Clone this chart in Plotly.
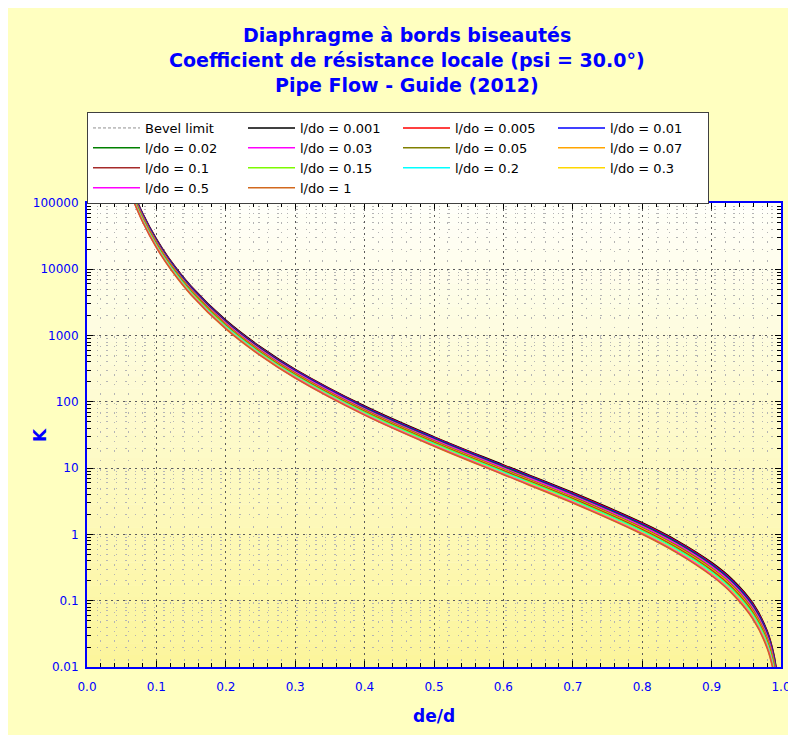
import plotly.graph_objects as go

# ---------------- data ----------------
de_d = [0.065, 0.08, 0.10, 0.12, 0.15, 0.20, 0.25, 0.30, 0.40, 0.50,
        0.60, 0.70, 0.80, 0.85, 0.90, 0.93, 0.96, 0.98, 0.99, 0.995]

k_0001 = [162000, 70400, 28700, 13700, 5550, 1707, 673.5, 309.9, 86.49, 29.69,
          11.22, 4.290, 1.501, 0.809, 0.378, 0.2085, 0.0899, 0.0352, 0.0149, 0.00663]
k_0005 = [159000, 69000, 28100, 13500, 5440, 1673, 659.9, 303.6, 84.69, 29.05,
          10.96, 4.188, 1.463, 0.787, 0.367, 0.2020, 0.0869, 0.0339, 0.0143, 0.00635]
k_001 = [156000, 67800, 27600, 13200, 5340, 1643, 648.1, 298.1, 83.11, 28.50,
         10.74, 4.099, 1.429, 0.768, 0.357, 0.1963, 0.0842, 0.0328, 0.0138, 0.00611]
k_002 = [151500, 65800, 26800, 12800, 5180, 1594, 628.5, 289.0, 80.52, 27.58,
         10.38, 3.953, 1.373, 0.736, 0.3415, 0.1870, 0.0798, 0.0310, 0.0130, 0.00572]
k_003 = [148000, 64200, 26100, 12500, 5060, 1555, 613.1, 281.9, 78.48, 26.86,
         10.10, 3.838, 1.330, 0.711, 0.329, 0.1797, 0.0764, 0.0295, 0.0123, 0.00542]
k_005 = [142000, 61900, 25200, 12100, 4870, 1497, 590.3, 271.3, 75.46, 25.79,
         9.679, 3.668, 1.266, 0.675, 0.311, 0.1691, 0.0715, 0.0274, 0.0114, 0.00499]
k_007 = [139000, 60300, 24600, 11800, 4750, 1460, 575.3, 264.3, 73.49, 25.09,
         9.404, 3.557, 1.224, 0.651, 0.299, 0.1622, 0.0683, 0.0261, 0.0108, 0.00470]
k_01 = [135000, 58800, 23900, 11500, 4630, 1423, 560.5, 257.5, 71.53, 24.40,
        9.134, 3.448, 1.183, 0.628, 0.287, 0.1554, 0.0651, 0.0247, 0.0102, 0.00443]
k_015 = [132000, 57300, 23300, 11200, 4510, 1386, 546.0, 250.7, 69.61, 23.72,
         8.867, 3.341, 1.142, 0.605, 0.276, 0.1488, 0.0621, 0.0235, 0.00961, 0.00417]
k_02 = [128500, 55800, 22700, 10900, 4390, 1350, 531.6, 244.1, 67.71, 23.05,
        8.604, 3.235, 1.103, 0.583, 0.265, 0.1423, 0.0591, 0.0222, 0.00905, 0.00391]
k_03 = [125000, 54300, 22100, 10600, 4280, 1314, 517.4, 237.5, 65.84, 22.39,
        8.346, 3.131, 1.064, 0.560, 0.254, 0.1359, 0.0562, 0.0210, 0.00851, 0.00366]
k_05 = [122000, 52900, 21500, 10300, 4160, 1279, 503.4, 231.0, 63.99, 21.74,
        8.091, 3.029, 1.025, 0.539, 0.243, 0.1297, 0.0533, 0.0198, 0.00799, 0.00342]
k_1 = [120000, 52200, 21200, 10200, 4110, 1261, 496.5, 227.8, 63.08, 21.42,
       7.965, 2.978, 1.006, 0.528, 0.238, 0.1267, 0.0519, 0.0192, 0.00774, 0.00331]

# the bevel limit has no visible mark inside the plotted range
bevel_limit_x = [None]
bevel_limit_y = [None]

series_names = ["l/do = 0.001", "l/do = 0.005", "l/do = 0.01", "l/do = 0.02",
                "l/do = 0.03", "l/do = 0.05", "l/do = 0.07", "l/do = 0.1",
                "l/do = 0.15", "l/do = 0.2", "l/do = 0.3", "l/do = 0.5", "l/do = 1"]
series_values = [k_0001, k_0005, k_001, k_002, k_003, k_005, k_007, k_01,
                 k_015, k_02, k_03, k_05, k_1]

y_tickvals = [0.01, 0.1, 1, 10, 100, 1000, 10000, 100000]
y_ticktext = ["0.01", "0.1", "1", "10", "100", "1000", "10000", "100000"]

title_lines = ["Diaphragme à bords biseautés",
               "Coefficient de résistance locale (psi = 30.0°)",
               "Pipe Flow - Guide (2012)"]

# ---------------- styling ----------------
series_colors = ["#000000", "#ff0000", "#0000ff", "#008000", "#ff00ff", "#808000",
                 "#ffa500", "#a52a2a", "#7cfc00", "#00ffff", "#ffd700", "#ff00ff",
                 "#d2691e"]
FONT = "DejaVu Sans, Verdana, sans-serif"
BLUE = "#0000ff"

W, H = 796, 735
L, R, T, B = 79, 23, 195, 76
plot_h = H - T - B
plot_w = W - L - R


def py(px):
    """figure pixel y (from top) -> paper y"""
    return (H - B - px) / plot_h


def pxx(px):
    """figure pixel x -> paper x"""
    return (px - L) / plot_w


fig = go.Figure()

fig.add_trace(go.Scatter(x=bevel_limit_x, y=bevel_limit_y, mode="lines",
                         name="Bevel limit",
                         line=dict(color="#909090", width=1, dash="3px,2px")))

for name, vals, col in zip(series_names, series_values, series_colors):
    fig.add_trace(go.Scatter(x=de_d, y=vals, mode="lines", name=name,
                             line=dict(color=col, width=1.5, shape="spline")))

# gradient background of plot area
shapes = []
n = 40
top_c = (255, 255, 250)
bot_c = (252, 245, 155)
for i in range(n):
    t = (i + 0.5) / n
    c = tuple(round(top_c[k] + (bot_c[k] - top_c[k]) * t) for k in range(3))
    shapes.append(dict(type="rect", xref="paper", yref="paper",
                       x0=0, x1=1, y0=1 - (i + 1) / n, y1=1 - i / n + 0.001,
                       fillcolor="rgb(%d,%d,%d)" % c, line=dict(width=0),
                       layer="below"))

annotations = []
for i, line in enumerate(title_lines):
    annotations.append(dict(text="<b>%s</b>" % line, x=pxx(399), y=py(27 + 25 * i),
                            xref="paper", yref="paper", showarrow=False,
                            xanchor="center", yanchor="middle",
                            font=dict(family=FONT, size=19, color=BLUE)))
# y axis title
annotations.append(dict(text="<b>K</b>", x=pxx(32), y=py(427), xref="paper", yref="paper",
                        showarrow=False, textangle=-90, xanchor="center", yanchor="middle",
                        font=dict(family=FONT, size=17, color=BLUE)))
# x axis title
annotations.append(dict(text="<b>de/d</b>", x=0.5, y=py(708), xref="paper", yref="paper",
                        showarrow=False, xanchor="center", yanchor="middle",
                        font=dict(family=FONT, size=17, color=BLUE)))

axis_common = dict(
    showline=True, linecolor=BLUE, linewidth=2, mirror="ticks",
    ticks="inside", ticklen=6, tickwidth=1.2, tickcolor="black",
    showgrid=True, gridcolor="#5c5c5c", griddash="2px,4px", gridwidth=1,
    zeroline=False,
    tickfont=dict(family=FONT, size=12, color=BLUE),
)

fig.update_layout(
    width=W, height=H,
    margin=dict(l=L, r=R, t=T, b=B, autoexpand=False),
    paper_bgcolor="#ffffc0",
    plot_bgcolor="#fffff0",
    shapes=shapes,
    annotations=annotations,
    showlegend=True,
    legend=dict(orientation="h", x=0, y=py(104), xanchor="left", yanchor="top",
                bgcolor="white", bordercolor="#404040", borderwidth=1,
                font=dict(family=FONT, size=13, color="black"),
                entrywidth=93, entrywidthmode="pixels", itemwidth=47,
                tracegroupgap=0),
    xaxis=dict(
        range=[0, 1], dtick=0.1, tick0=0, tickformat=".1f",
        minor=dict(dtick=0.02, ticks="inside", ticklen=4, tickcolor="black",
                   showgrid=True, gridcolor="#b4b4b4", griddash="1.5px,8px"),
        ticklabelstandoff=8,
        **axis_common),
    yaxis=dict(
        type="log", range=[-2, 5],
        tickmode="array", tickvals=y_tickvals, ticktext=y_ticktext,
        minor=dict(dtick="D1", ticks="inside", ticklen=4, tickcolor="black",
                   showgrid=True, gridcolor="#b4b4b4", griddash="1.5px,8px"),
        ticklabelstandoff=4,
        **axis_common),
)

fig.write_html("out.html")
